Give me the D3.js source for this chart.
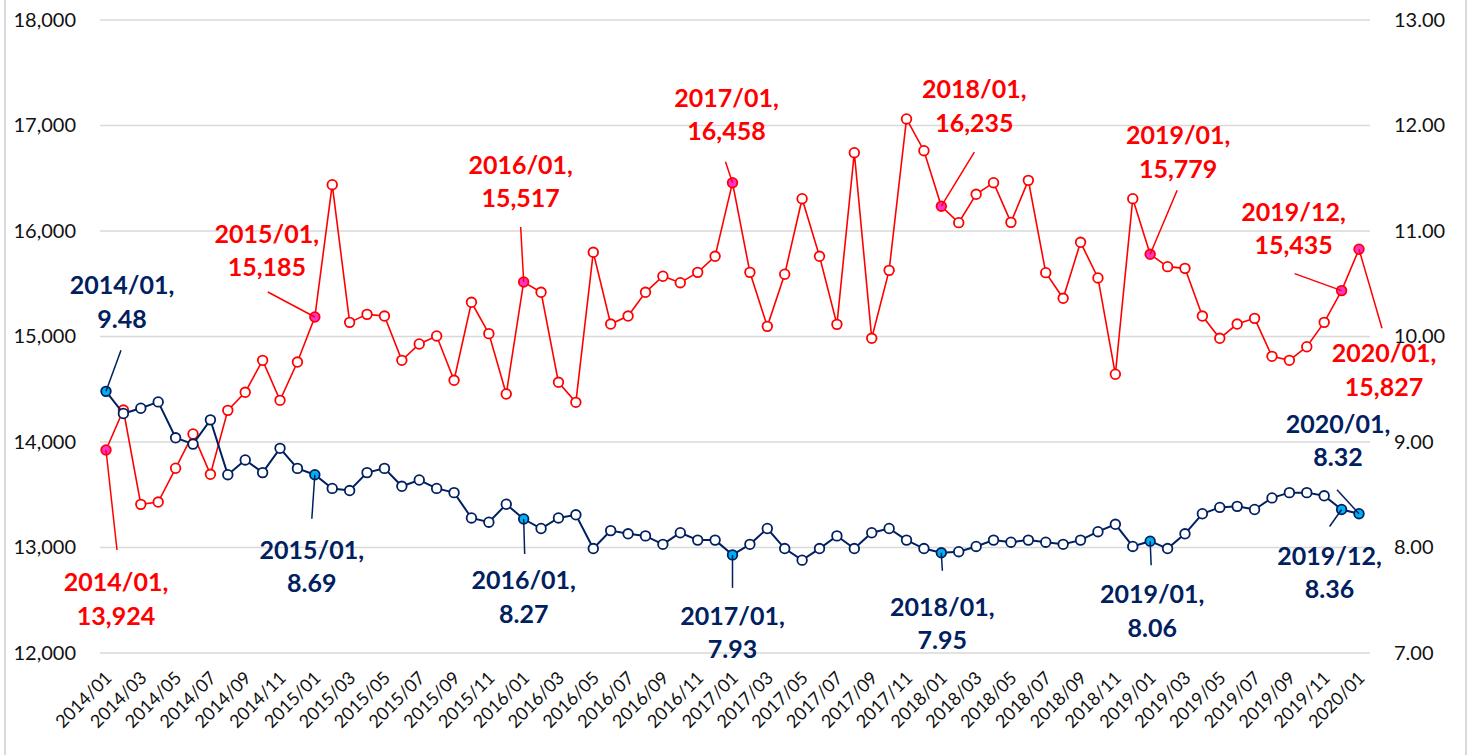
<!DOCTYPE html>
<html>
<head>
<meta charset="utf-8">
<script src="https://cdn.jsdelivr.net/npm/d3@7"></script>
<style>
    html, body { margin: 0; padding: 0; background: #fff; }
    svg { display: block; font-family: Lato, "Open Sans", sans-serif; }
</style>
</head>
<body>
<div id="chart"></div>
<script>
// categories (monthly)
var months = [
    '2014/01','2014/02','2014/03','2014/04','2014/05','2014/06','2014/07','2014/08','2014/09','2014/10','2014/11','2014/12',
    '2015/01','2015/02','2015/03','2015/04','2015/05','2015/06','2015/07','2015/08','2015/09','2015/10','2015/11','2015/12',
    '2016/01','2016/02','2016/03','2016/04','2016/05','2016/06','2016/07','2016/08','2016/09','2016/10','2016/11','2016/12',
    '2017/01','2017/02','2017/03','2017/04','2017/05','2017/06','2017/07','2017/08','2017/09','2017/10','2017/11','2017/12',
    '2018/01','2018/02','2018/03','2018/04','2018/05','2018/06','2018/07','2018/08','2018/09','2018/10','2018/11','2018/12',
    '2019/01','2019/02','2019/03','2019/04','2019/05','2019/06','2019/07','2019/08','2019/09','2019/10','2019/11','2019/12',
    '2020/01'
];

// red series, left axis
var redValues = [
    13924, 14303, 13409, 13431, 13751, 14076, 13694, 14300, 14471, 14774, 14395, 14758,
    15185, 16439, 15134, 15210, 15194, 14774, 14929, 15005, 14585, 15324, 15027, 14455,
    15517, 15419, 14566, 14376, 15798, 15118, 15194, 15419, 15571, 15510, 15608, 15760,
    16458, 15608, 15096, 15590, 16306, 15760, 15115, 16742, 14983, 15627, 17062, 16761,
    16235, 16079, 16348, 16458, 16082, 16480, 15605, 15362, 15893, 15555, 14642, 16306,
    15779, 15662, 15646, 15194, 14983, 15118, 15172, 14812, 14774, 14903, 15134, 15435,
    15827
];

// blue series, right axis
var blueValues = [
    9.48, 9.27, 9.32, 9.38, 9.04, 8.98, 9.21, 8.69, 8.83, 8.71, 8.94, 8.75,
    8.69, 8.56, 8.54, 8.71, 8.75, 8.58, 8.64, 8.56, 8.52, 8.28, 8.24, 8.41,
    8.27, 8.18, 8.28, 8.31, 7.99, 8.16, 8.13, 8.11, 8.03, 8.14, 8.07, 8.07,
    7.93, 8.03, 8.18, 7.99, 7.88, 7.99, 8.11, 7.99, 8.14, 8.18, 8.07, 7.99,
    7.95, 7.96, 8.01, 8.07, 8.05, 8.07, 8.05, 8.03, 8.07, 8.15, 8.22, 8.01,
    8.06, 7.99, 8.13, 8.32, 8.38, 8.39, 8.36, 8.47, 8.52, 8.52, 8.49, 8.36,
    8.32
];

var leftTicks = [12000, 13000, 14000, 15000, 16000, 17000, 18000];
var rightTicks = [7, 8, 9, 10, 11, 12, 13];
var xTickLabels = months.filter(function (m, i) { return i % 2 === 0; });

// annotated months
var redNotes = ['2014/01', '2015/01', '2016/01', '2017/01', '2018/01', '2019/01', '2019/12', '2020/01'];
var blueNotes = ['2014/01', '2015/01', '2016/01', '2017/01', '2018/01', '2019/01', '2019/12', '2020/01'];

// label placement relative to the point: [label dx, first baseline dy, leader end dx, leader end dy]
var redNoteOffsets = [
    [10, 141, 11, 100], [-48, -74, -47, -25], [-3, -108, -3, -55], [-6, -76, -7, -21],
    [33, -108, 33, -54], [28, -110, 27, -64], [-48, -70, -47, -17], [25, 113, 23, 79]
];
var blueNoteOffsets = [
    [16, -97, 15, -41], [-3, 84, -3, 44], [0, 70, 1, 35], [0, 70, 0, 33],
    [1, 63, 1, 18], [2, 62, 1, 24], [-12, 55, -12, 17], [-21, -81, -22, -24]
];

var red = '#ff0000', navy = '#002060', pink = '#ff33cc', cyan = '#00b0f0', grid = '#d9d9d9';

var width = 1470, height = 755;
var svg = d3.select('#chart').append('svg')
    .attr('width', width)
    .attr('height', height);

var x = d3.scalePoint().domain(months).range([106, 1359]);
var yL = d3.scaleLinear().domain([12000, 18000]).range([653, 20]);
var yR = d3.scaleLinear().domain([7, 13]).range([653, 20]);

// frame
svg.append('line').attr('x1', 5).attr('x2', 5).attr('y1', 0).attr('y2', height)
    .attr('stroke', grid).attr('stroke-width', 2);
svg.append('line').attr('x1', 1466).attr('x2', 1466).attr('y1', 0).attr('y2', height)
    .attr('stroke', grid).attr('stroke-width', 2);

// gridlines
svg.append('g').selectAll('line').data(leftTicks).enter().append('line')
    .attr('x1', 100).attr('x2', 1370)
    .attr('y1', d => yL(d)).attr('y2', d => yL(d))
    .attr('stroke', grid).attr('stroke-width', 1.5);

// left axis
var gL = svg.append('g').attr('transform', 'translate(100,0)')
    .call(d3.axisLeft(yL).tickValues(leftTicks).tickFormat(d3.format(',')).tickSize(0).tickPadding(24));
gL.select('.domain').remove();
gL.selectAll('text').attr('font-size', 20).attr('font-family', 'Lato, sans-serif').attr('fill', '#111');

// right axis
var gR = svg.append('g').attr('transform', 'translate(1370,0)')
    .call(d3.axisRight(yR).tickValues(rightTicks).tickFormat(d3.format('.2f')).tickSize(0).tickPadding(24));
gR.select('.domain').remove();
gR.selectAll('text').attr('font-size', 20).attr('font-family', 'Lato, sans-serif').attr('fill', '#111');

// x labels
svg.append('g').selectAll('text').data(xTickLabels).enter().append('text')
    .attr('transform', d => 'translate(' + (x(d) + 7) + ',679) rotate(-45)')
    .attr('text-anchor', 'end')
    .attr('font-size', 18)
    .attr('fill', '#111')
    .text(d => d);

function drawSeries(values, yScale, color, hiFill, notes, width) {
    var pts = months.map(function (m, i) { return { m: m, v: values[i] }; });
    var line = d3.line().x(d => x(d.m)).y(d => yScale(d.v));
    var g = svg.append('g');
    g.append('path').datum(pts)
        .attr('d', line)
        .attr('fill', 'none')
        .attr('stroke', color)
        .attr('stroke-width', width);
    g.selectAll('circle').data(pts).enter().append('circle')
        .attr('cx', d => x(d.m))
        .attr('cy', d => yScale(d.v))
        .attr('r', 4.8)
        .attr('fill', d => notes.indexOf(d.m) >= 0 ? hiFill : '#fff')
        .attr('stroke', color)
        .attr('stroke-width', 1.8);
    return pts;
}

function drawNotes(pts, yScale, color, notes, offsets, fmt) {
    var g = svg.append('g');
    notes.forEach(function (m, i) {
        var p = pts[months.indexOf(m)];
        var px = x(m), py = yScale(p.v), o = offsets[i];
        g.append('line')
            .attr('x1', px).attr('y1', py)
            .attr('x2', px + o[2]).attr('y2', py + o[3])
            .attr('stroke', color).attr('stroke-width', 1.5);
        var t = g.append('text')
            .attr('text-anchor', 'middle')
            .attr('font-size', 25)
            .attr('font-weight', 'bold')
            .attr('fill', color);
        t.append('tspan').attr('x', px + o[0]).attr('y', py + o[1]).text(m + ',');
        t.append('tspan').attr('x', px + o[0]).attr('y', py + o[1] + 33.5).text(fmt(p.v));
    });
}

var redPts = drawSeries(redValues, yL, red, pink, redNotes, 1.6);
var bluePts = drawSeries(blueValues, yR, navy, cyan, blueNotes, 2);
drawNotes(redPts, yL, red, redNotes, redNoteOffsets, d3.format(','));
drawNotes(bluePts, yR, navy, blueNotes, blueNoteOffsets, d3.format('.2f'));
</script>
</body>
</html>
